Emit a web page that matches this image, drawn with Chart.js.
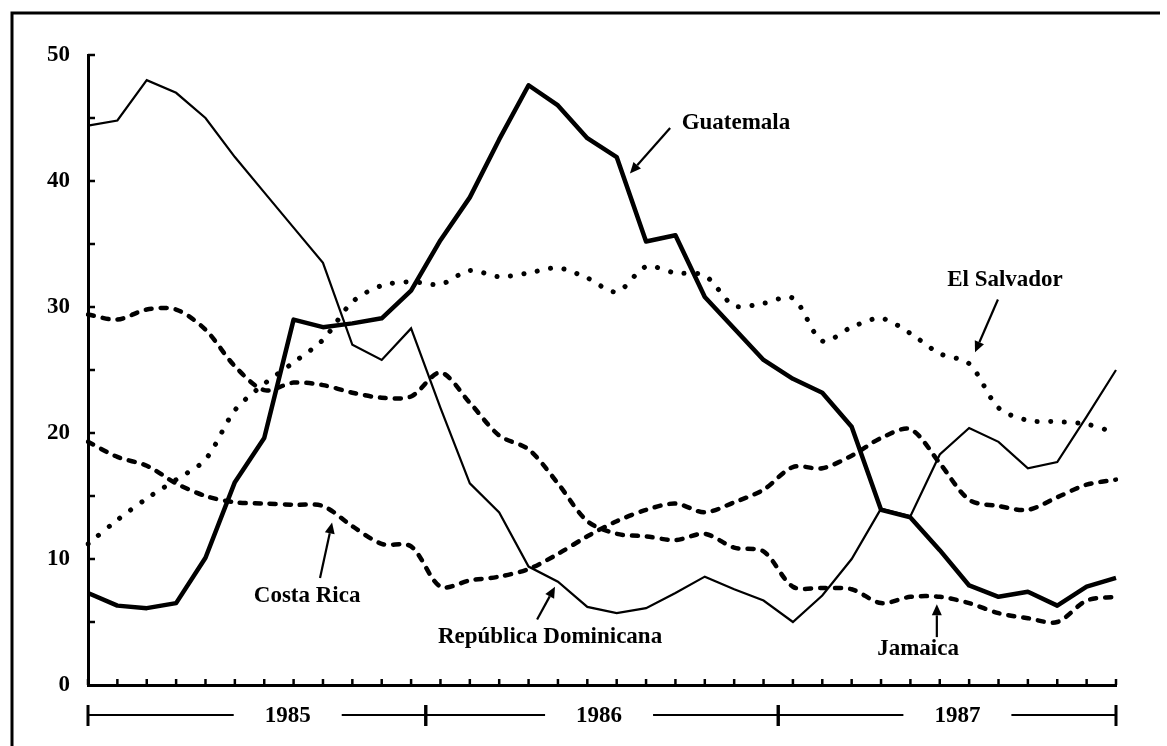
<!DOCTYPE html>
<html>
<head>
<meta charset="utf-8">
<title>Inflación Centroamérica y Caribe 1985-1987</title>
<script src="https://cdn.jsdelivr.net/npm/chart.js@4.4.0/dist/chart.umd.min.js"></script>
<style>
    html, body { margin: 0; padding: 0; background: #fff; }
    #wrap { position: relative; width: 1167px; height: 746px; }
</style>
</head>
<body>
<div id="wrap"><canvas id="inflationChart" width="1167" height="746"></canvas></div>
<script>
// Data (monthly, Jan 1985 - Dec 1987)
const years = ['1985', '1986', '1987'];
const monthNames = ['Ene', 'Feb', 'Mar', 'Abr', 'May', 'Jun', 'Jul', 'Ago', 'Sep', 'Oct', 'Nov', 'Dic'];
const yTicks = [0, 10, 20, 30, 40, 50];

const guatemala = [7.3, 6.3, 6.1, 6.5, 10.1, 16.1, 19.6, 29.0, 28.4, 28.7, 29.1, 31.3,
                   35.3, 38.7, 43.3, 47.6, 46.0, 43.4, 41.9, 35.2, 35.7, 30.8, 28.3, 25.8,
                   24.3, 23.2, 20.5, 13.9, 13.3, 10.7, 7.9, 7.0, 7.4, 6.3, 7.8, 8.5];
const dominicana = [44.4, 44.8, 48.0, 47.0, 45.0, 41.9, 39.1, 36.3, 33.5, 27.0, 25.8, 28.3,
                    22.0, 16.0, 13.7, 9.4, 8.2, 6.2, 5.7, 6.1, 7.3, 8.6, 7.6, 6.7,
                    5.0, 7.1, 10.0, 14.0, 13.4, 18.3, 20.4, 19.3, 17.2, 17.7, 21.3, 25.0];
const elSalvador = [11.2, 13.1, 14.8, 16.3, 17.9, 21.8, 23.9, 25.6, 27.4, 30.4, 31.7, 32.0,
                    31.8, 32.9, 32.4, 32.7, 33.1, 32.3, 31.2, 33.2, 32.7, 32.5, 30.1, 30.3,
                    30.7, 27.3, 28.4, 29.1, 27.9, 26.3, 25.5, 22.0, 21.0, 20.9, 20.7, 20.0];
const jamaica = [29.4, 29.0, 29.8, 29.8, 28.2, 25.3, 23.4, 24.0, 23.8, 23.2, 22.8, 22.9,
                 24.8, 22.4, 19.8, 18.7, 16.0, 13.0, 12.0, 11.8, 11.5, 12.0, 10.9, 10.6,
                 7.8, 7.7, 7.6, 6.5, 7.0, 7.0, 6.5, 5.7, 5.3, 5.0, 6.7, 7.0];
const costaRica = [19.3, 18.1, 17.4, 16.0, 15.0, 14.5, 14.4, 14.3, 14.2, 12.6, 11.2, 11.0,
                   7.8, 8.3, 8.6, 9.2, 10.4, 11.8, 13.0, 13.9, 14.4, 13.7, 14.5, 15.5,
                   17.3, 17.2, 18.2, 19.6, 20.3, 17.6, 14.7, 14.2, 13.9, 14.9, 15.9, 16.3];

const labels = [];
years.forEach(yr => monthNames.forEach(m => labels.push(`${m} ${yr}`)));

const FONT = '"Liberation Serif", "Times New Roman", serif';

// Year brackets below the axis (in month-index units)
const yearSpans = [[0, 11.5], [11.5, 23.5], [23.5, 35]];
const yearLabelAt = [6.8, 17.4, 29.6];

// Series labels with arrows, placed in data coordinates [month index, value]
const notes = [
    { text: 'Guatemala', at: [22.06, 44.6], from: [19.82, 44.2], to: [18.45, 40.6] },
    { text: 'El Salvador', at: [31.22, 32.1], from: [30.98, 30.6], to: [30.2, 26.4] },
    { text: 'Costa Rica', at: [7.46, 7.06], from: [7.9, 8.5], to: [8.31, 12.9] },
    { text: 'República Dominicana', at: [15.73, 3.8], from: [15.29, 5.2], to: [15.9, 7.8] },
    { text: 'Jamaica', at: [28.26, 2.86], from: [28.9, 3.8], to: [28.9, 6.4] }
];

function drawArrow(ctx, x0, y0, x1, y1) {
    const ang = Math.atan2(y1 - y0, x1 - x0);
    const len = 11, half = 5;
    const bx = x1 - len * Math.cos(ang), by = y1 - len * Math.sin(ang);
    ctx.lineWidth = 2.2;
    ctx.beginPath();
    ctx.moveTo(x0, y0);
    ctx.lineTo(bx, by);
    ctx.stroke();
    ctx.beginPath();
    ctx.moveTo(x1, y1);
    ctx.lineTo(bx + half * Math.sin(ang), by - half * Math.cos(ang));
    ctx.lineTo(bx - half * Math.sin(ang), by + half * Math.cos(ang));
    ctx.closePath();
    ctx.fill();
}

const decorations = {
    id: 'decorations',
    afterDraw(chart) {
        const { ctx, chartArea: area, scales: { x, y } } = chart;
        ctx.save();
        ctx.strokeStyle = '#000';
        ctx.fillStyle = '#000';

        // outer frame (left and top edges)
        ctx.lineWidth = 3;
        ctx.beginPath();
        ctx.moveTo(12, 746);
        ctx.lineTo(12, 13);
        ctx.lineTo(1160, 13);
        ctx.stroke();

        // y ticks every 5, pointing inward
        ctx.lineWidth = 2.5;
        for (let v = 5; v <= 50; v += 5) {
            const py = y.getPixelForValue(v);
            ctx.beginPath();
            ctx.moveTo(area.left, py);
            ctx.lineTo(area.left + 7, py);
            ctx.stroke();
        }
        // x ticks each month, pointing up
        for (let i = 0; i < labels.length; i++) {
            const px = x.getPixelForValue(i);
            ctx.beginPath();
            ctx.moveTo(px, area.bottom);
            ctx.lineTo(px, area.bottom - 6);
            ctx.stroke();
        }

        // year brackets
        const by = area.bottom + 30;
        ctx.font = `bold 23px ${FONT}`;
        ctx.textAlign = 'center';
        ctx.textBaseline = 'middle';
        yearSpans.forEach((span, i) => {
            const x0 = x.getPixelForValue(span[0]);
            const x1 = x.getPixelForValue(span[1]);
            const cx = x.getPixelForValue(yearLabelAt[i]);
            const gap = 54;
            ctx.lineWidth = 2;
            ctx.beginPath();
            ctx.moveTo(x0, by);
            ctx.lineTo(cx - gap, by);
            ctx.moveTo(cx + gap, by);
            ctx.lineTo(x1, by);
            ctx.stroke();
            ctx.lineWidth = 3;
            ctx.beginPath();
            ctx.moveTo(x0, by - 10);
            ctx.lineTo(x0, by + 11);
            ctx.moveTo(x1, by - 10);
            ctx.lineTo(x1, by + 11);
            ctx.stroke();
            ctx.fillText(years[i], cx, by + 1);
        });

        // series labels and arrows
        notes.forEach(n => {
            ctx.fillText(n.text, x.getPixelForValue(n.at[0]), y.getPixelForValue(n.at[1]));
            drawArrow(ctx,
                x.getPixelForValue(n.from[0]), y.getPixelForValue(n.from[1]),
                x.getPixelForValue(n.to[0]), y.getPixelForValue(n.to[1]));
        });
        ctx.restore();
    }
};

const dashed = { borderWidth: 4.5, borderDash: [6, 9], borderCapStyle: 'round', tension: 0.3 };

new Chart(document.getElementById('inflationChart'), {
    type: 'line',
    data: {
        labels: labels,
        datasets: [
            { label: 'Costa Rica', data: costaRica, borderColor: '#000', ...dashed },
            { label: 'Jamaica', data: jamaica, borderColor: '#000', ...dashed },
            { label: 'El Salvador', data: elSalvador, borderColor: '#000', borderWidth: 5,
              borderDash: [0.1, 13.5], borderCapStyle: 'round', tension: 0.3 },
            { label: 'República Dominicana', data: dominicana, borderColor: '#000', borderWidth: 2.2, tension: 0 },
            { label: 'Guatemala', data: guatemala, borderColor: '#000', borderWidth: 4.5,
              borderJoinStyle: 'round', tension: 0 }
        ]
    },
    options: {
        responsive: false,
        animation: false,
        layout: { padding: { top: 55, right: 51, left: 0, bottom: 0 } },
        elements: { point: { radius: 0 } },
        plugins: {
            legend: { display: false },
            tooltip: { enabled: false }
        },
        scales: {
            x: {
                ticks: { display: false },
                grid: { display: false, drawTicks: false },
                border: { width: 3, color: '#000' },
                afterFit: s => { s.height = 61; }
            },
            y: {
                min: 0,
                max: 50,
                afterBuildTicks: s => { s.ticks = yTicks.map(v => ({ value: v })); },
                ticks: {
                    color: '#000',
                    padding: 18,
                    font: { family: FONT, size: 23, weight: 'bold' }
                },
                grid: { display: false, drawTicks: false },
                border: { width: 3, color: '#000' },
                afterFit: s => { s.width = 88; }
            }
        }
    },
    plugins: [decorations]
});
</script>
</body>
</html>
